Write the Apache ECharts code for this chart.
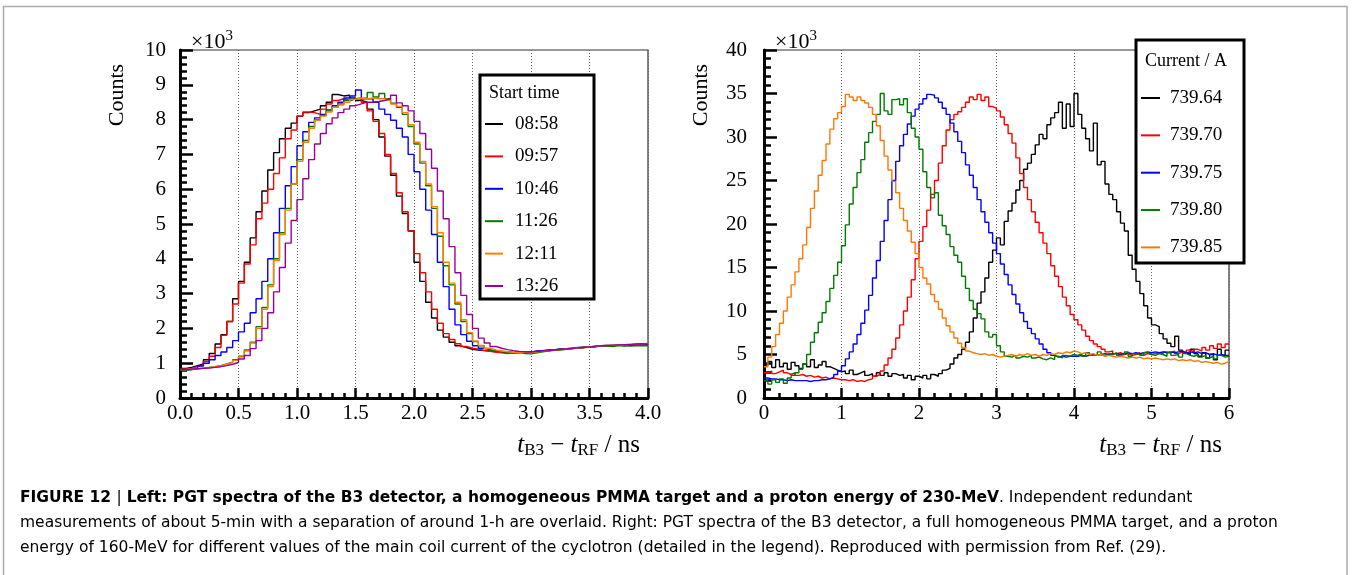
<!DOCTYPE html>
<html>
<head>
<meta charset="utf-8">
<script src="https://cdn.jsdelivr.net/npm/echarts@6/dist/echarts.min.js"></script>
<style>
  html, body { margin: 0; padding: 0; background: #fff; }
  #chart { width: 1352px; height: 575px; }
</style>
</head>
<body>
<div id="chart"></div>
<script>
// ---- left panel: start time runs, counts in units of 10^3, bins of 0.05 ns ----
const leftBin = 0.05;
const leftNames = ['08:58', '09:57', '10:46', '11:26', '12:11', '13:26'];
const leftColors = ['#000000', '#ff0000', '#0000ff', '#007a00', '#ff7f00', '#990099'];

const left0858 = [
  0.85, 0.88, 0.93, 0.98, 1.10, 1.28, 1.55, 1.82, 2.20, 2.85,
  3.35, 3.90, 4.60, 5.35, 5.95, 6.55, 7.05, 7.45, 7.75, 7.90,
  8.10, 8.20, 8.25, 8.30, 8.40, 8.50, 8.72, 8.68, 8.70, 8.62,
  8.55, 8.50, 8.30, 8.00, 7.50, 6.95, 6.40, 5.80, 5.30, 4.80,
  3.90, 3.35, 2.75, 2.30, 1.95, 1.75, 1.60, 1.50, 1.45, 1.40,
  1.38, 1.36, 1.35, 1.33, 1.32, 1.31, 1.30, 1.30, 1.32, 1.33,
  1.34, 1.36, 1.37, 1.38, 1.40, 1.41, 1.42, 1.44, 1.45, 1.47,
  1.48, 1.50, 1.49, 1.51, 1.52, 1.50, 1.53, 1.52, 1.54, 1.53
];
const left0957 = [
  0.82, 0.85, 0.90, 0.95, 1.05, 1.20, 1.45, 1.80, 2.20, 2.70,
  3.30, 3.85, 4.40, 5.15, 5.60, 6.00, 6.45, 6.90, 7.45, 7.70,
  8.10, 8.22, 8.20, 8.15, 8.30, 8.45, 8.55, 8.60, 8.55, 8.60,
  8.62, 8.50, 8.25, 7.95, 7.60, 7.00, 6.45, 5.90, 5.35, 4.80,
  4.15, 3.60, 3.05, 2.55, 2.15, 1.85, 1.68, 1.56, 1.48, 1.43,
  1.40, 1.37, 1.34, 1.32, 1.30, 1.28, 1.30, 1.31, 1.30, 1.32,
  1.34, 1.35, 1.37, 1.38, 1.40, 1.40, 1.42, 1.44, 1.45, 1.46,
  1.48, 1.49, 1.50, 1.50, 1.52, 1.52, 1.53, 1.54, 1.55, 1.55
];
const left1046 = [
  0.80, 0.82, 0.85, 0.92, 1.00, 1.10, 1.22, 1.32, 1.45, 1.65,
  1.90, 2.15, 2.45, 2.85, 3.35, 4.00, 4.75, 5.45, 6.10, 6.65,
  7.25, 7.65, 7.92, 8.05, 8.15, 8.28, 8.40, 8.50, 8.62, 8.68,
  8.85, 8.60, 8.60, 8.50, 8.30, 8.15, 7.98, 7.75, 7.50, 7.00,
  6.50, 6.00, 5.40, 4.70, 3.90, 3.20, 2.55, 2.10, 1.82, 1.63,
  1.50, 1.43, 1.39, 1.36, 1.34, 1.32, 1.31, 1.32, 1.33, 1.32,
  1.35, 1.36, 1.38, 1.39, 1.40, 1.42, 1.43, 1.45, 1.46, 1.47,
  1.48, 1.50, 1.51, 1.50, 1.52, 1.53, 1.52, 1.54, 1.55, 1.54
];
const left1126 = [
  0.80, 0.82, 0.84, 0.86, 0.88, 0.90, 0.93, 0.98, 1.03, 1.10,
  1.20, 1.38, 1.60, 2.05, 2.60, 3.25, 4.00, 4.75, 5.45, 6.15,
  6.85, 7.40, 7.80, 8.00, 8.12, 8.25, 8.35, 8.45, 8.55, 8.60,
  8.60, 8.62, 8.78, 8.65, 8.75, 8.60, 8.47, 8.35, 8.15, 7.80,
  7.30, 6.75, 6.10, 5.45, 4.65, 3.80, 3.25, 2.70, 2.20, 1.85,
  1.62, 1.50, 1.42, 1.36, 1.33, 1.32, 1.30, 1.32, 1.28, 1.27,
  1.30, 1.33, 1.35, 1.37, 1.38, 1.40, 1.42, 1.43, 1.45, 1.47,
  1.48, 1.49, 1.50, 1.48, 1.51, 1.50, 1.49, 1.50, 1.51, 1.50
];
const left1211 = [
  0.82, 0.83, 0.84, 0.85, 0.87, 0.90, 0.92, 0.97, 1.02, 1.08,
  1.18, 1.35, 1.58, 2.00, 2.55, 3.20, 3.95, 4.70, 5.40, 6.15,
  6.80, 7.35, 7.75, 7.98, 8.10, 8.22, 8.35, 8.42, 8.50, 8.58,
  8.62, 8.60, 8.62, 8.60, 8.60, 8.55, 8.45, 8.38, 8.20, 7.85,
  7.35, 6.80, 6.15, 5.50, 4.75, 3.90, 3.30, 2.75, 2.25, 1.88,
  1.64, 1.51, 1.43, 1.38, 1.35, 1.33, 1.31, 1.30, 1.32, 1.30,
  1.33, 1.34, 1.36, 1.38, 1.39, 1.41, 1.42, 1.44, 1.46, 1.47,
  1.49, 1.50, 1.51, 1.52, 1.51, 1.53, 1.54, 1.55, 1.56, 1.57
];
const left1326 = [
  0.82, 0.83, 0.84, 0.85, 0.86, 0.88, 0.90, 0.93, 0.97, 1.02,
  1.12, 1.22, 1.42, 1.65, 2.00, 2.45, 3.05, 3.75, 4.45, 5.10,
  5.70, 6.30, 6.85, 7.30, 7.60, 7.88, 8.05, 8.20, 8.30, 8.40,
  8.45, 8.50, 8.50, 8.52, 8.55, 8.60, 8.70, 8.48, 8.40, 8.25,
  7.95, 7.60, 7.15, 6.60, 5.95, 5.15, 4.35, 3.60, 2.95, 2.40,
  2.00, 1.72, 1.58, 1.48, 1.43, 1.39, 1.36, 1.34, 1.33, 1.32,
  1.34, 1.35, 1.36, 1.38, 1.40, 1.41, 1.43, 1.44, 1.46, 1.47,
  1.49, 1.50, 1.51, 1.52, 1.52, 1.53, 1.54, 1.55, 1.56, 1.55
];
const leftValues = [left0858, left0957, left1046, left1126, left1211, left1326];

// ---- right panel: main coil current, counts in units of 10^3, bins of 0.05 ns ----
const rightBin = 0.05;
const rightNames = ['739.64', '739.70', '739.75', '739.80', '739.85'];
const rightColors = ['#000000', '#ff0000', '#0000ff', '#007a00', '#ff7700'];

const right73964 = [
  3.8, 4.2, 3.5, 4.4, 3.6, 4.0, 3.3, 4.1, 3.7, 3.4,
  3.9, 3.6, 4.4, 3.5, 3.8, 4.2, 3.6, 3.4, 3.2, 3.0,
  3.1, 2.8, 3.2, 2.7, 2.9, 3.1, 2.6, 2.8, 2.5, 2.9,
  2.6, 2.9, 2.5, 2.8, 2.6, 2.7, 2.3, 2.6, 2.1, 2.5,
  2.3, 2.6, 2.2, 2.7, 2.5, 2.8, 3.2, 3.4, 3.9, 4.6,
  5.0, 5.6, 6.4, 7.6, 9.2, 10.9, 12.2, 13.8, 15.6, 17.0,
  18.4, 17.6, 20.3, 21.5, 22.4, 23.9, 25.0, 26.3, 27.0, 28.0,
  29.1, 30.3, 29.8, 31.4, 32.2, 32.8, 34.0, 31.0, 33.8, 31.2,
  35.0, 32.6, 31.0, 29.8, 28.4, 31.6, 26.8, 27.2, 24.6, 23.4,
  22.8, 21.4, 20.1, 19.2, 16.4, 14.8, 13.4, 12.0, 10.6, 9.2,
  8.4, 8.2, 7.4, 6.8, 6.3, 5.9, 7.1, 5.5, 5.2, 5.0,
  5.6, 5.1, 4.8, 5.2, 4.6, 5.0, 4.4, 5.6, 4.9, 5.5
];
const right73970 = [
  2.9, 3.1, 2.8, 3.0, 3.2, 2.9, 2.7, 2.9, 2.6, 2.7,
  2.5, 2.6, 2.4, 2.5, 2.3, 2.4, 2.2, 2.3, 2.2, 2.1,
  2.1, 2.0, 2.1, 1.9, 2.0, 1.9, 2.1, 2.2, 2.5, 2.7,
  3.1, 3.8, 4.6, 5.6, 6.9, 8.4, 10.0, 11.6, 13.6, 16.0,
  18.0, 19.7, 21.6, 23.4, 25.0, 27.0, 29.0, 30.8, 32.0, 32.6,
  32.9, 33.4, 34.0, 34.6, 34.3, 34.9, 34.2, 34.6, 33.5, 33.3,
  33.0, 32.3, 31.4, 30.4, 29.3, 27.6, 25.8, 24.2, 22.8, 21.4,
  20.2, 19.0, 17.8, 16.6, 15.2, 14.0, 12.8, 11.6, 10.6, 9.6,
  9.0, 8.4, 7.8, 7.1, 6.6, 6.2, 5.9, 5.6, 5.3, 5.4,
  5.1, 5.2, 5.0, 5.1, 4.9, 5.0, 5.2, 4.9, 5.1, 5.0,
  5.1, 5.2, 5.0, 5.3, 5.2, 5.4, 5.1, 5.3, 5.2, 5.5,
  5.3, 5.6, 5.4, 5.8, 5.5, 6.0, 5.7, 6.2, 5.8, 6.2
];
const right73975 = [
  2.3, 2.2, 2.2, 2.1, 2.1, 2.0, 2.1, 2.0, 2.0, 2.0,
  2.0, 1.9, 2.0, 2.0, 2.1, 2.1, 2.2, 2.4, 2.7, 3.1,
  3.7, 4.5, 5.3, 6.2, 7.3, 8.6, 10.1, 11.8, 13.8, 15.8,
  18.0, 20.4, 22.8, 25.0, 27.2, 29.0, 30.3, 31.5, 32.4, 33.2,
  33.8, 34.4, 34.9, 34.8, 34.5, 34.0, 33.3, 32.6, 31.6, 30.6,
  29.5, 28.2, 26.8, 25.6, 24.2, 22.8, 21.4, 20.2, 19.0, 17.8,
  16.6, 15.4, 14.2, 13.0, 11.9, 10.8, 9.8, 8.8, 8.0, 7.4,
  6.8, 6.2, 5.6, 5.2, 4.9, 4.7, 4.8, 4.7, 4.8, 4.8,
  4.8, 4.9, 4.8, 4.9, 5.0, 4.9, 5.0, 5.1, 5.0, 5.1,
  5.1, 5.0, 5.1, 5.2, 5.1, 5.2, 5.1, 5.2, 5.3, 5.2,
  5.3, 5.2, 5.3, 5.2, 5.3, 5.2, 5.3, 5.4, 5.2, 5.3,
  5.2, 5.3, 5.1, 5.2, 5.0, 5.1, 4.9, 5.0, 4.9, 4.9
];
const right73980 = [
  2.0, 1.6, 2.1, 1.8, 2.2, 1.7, 2.3, 2.6, 2.9, 3.3,
  3.9, 5.0, 6.4, 7.5, 8.7, 9.8, 11.1, 12.6, 14.1, 15.6,
  17.5, 19.9, 22.3, 24.2, 25.9, 27.4, 29.4, 30.5, 31.8, 32.6,
  35.0, 33.0, 32.6, 34.3, 34.4, 33.7, 34.4, 32.8, 31.0, 30.0,
  28.6, 26.0, 24.2, 23.0, 23.6, 21.0, 19.8, 18.8, 17.4, 16.4,
  15.6, 14.0, 12.6, 11.2, 10.2, 9.7, 9.1, 7.6, 7.0, 7.3,
  6.0, 5.3, 4.8, 4.7, 4.9, 4.6, 4.8, 4.7, 4.9, 4.6,
  4.7, 4.5, 4.4, 4.6, 4.4, 4.8, 4.6, 4.9, 4.8, 5.0,
  4.9, 5.1, 4.8, 5.2, 4.9, 5.0, 5.3, 4.9, 5.1, 5.0,
  5.2, 4.9, 5.0, 5.3, 4.8, 5.1, 5.0, 4.9, 5.2, 5.0,
  4.9, 5.1, 5.0, 4.8, 5.2, 4.9, 5.0, 4.7, 5.1, 4.9,
  4.8, 5.0, 4.7, 4.9, 4.6, 4.8, 4.5, 4.9, 4.7, 4.8
];
const right73985 = [
  3.6, 4.7, 5.9, 7.3, 8.6, 10.0, 11.6, 13.0, 14.5, 16.0,
  17.6, 19.6, 21.8, 23.8, 25.6, 27.3, 29.2, 30.9, 32.1, 32.8,
  33.5, 34.9, 34.6, 34.2, 34.6, 34.2, 33.9, 33.4, 32.6, 31.3,
  29.6, 27.8, 26.2, 24.9, 23.6, 21.8, 20.4, 19.2, 17.9, 16.6,
  15.0, 13.8, 13.1, 11.9, 11.1, 10.2, 9.2, 8.3, 7.6, 6.9,
  6.3, 5.8, 5.4, 5.2, 5.1, 5.0, 5.1, 4.9, 5.0, 4.8,
  4.7, 4.8, 4.9, 5.0, 4.8, 5.0, 4.9, 5.1, 4.9, 5.0,
  4.8, 5.0, 4.9, 5.1, 5.0, 5.2, 5.1, 5.3, 5.2, 5.4,
  5.3, 5.1, 5.2, 5.0, 5.1, 4.9, 5.0, 4.8, 4.9, 4.8,
  4.7, 4.8, 4.7, 4.6, 4.7, 4.6, 4.7, 4.5, 4.6, 4.5,
  4.6, 4.5, 4.4, 4.5, 4.4, 4.5, 4.3, 4.4, 4.3, 4.4,
  4.2, 4.3, 4.1, 4.2, 4.1, 4.0, 4.1, 3.9, 4.0, 4.2
];
const rightValues = [right73964, right73970, right73975, right73980, right73985];

const serif = 'Liberation Serif';
const sans = 'DejaVu Sans';

// histogram bins -> step line points on bin edges
function toSteps(vals, w) {
  const pts = vals.map((v, i) => [+(i * w).toFixed(3), v]);
  pts.push([+(vals.length * w).toFixed(3), vals[vals.length - 1]]);
  return pts;
}

function xAxisFor(gridIndex, max, interval, fmt) {
  return {
    type: 'value', gridIndex: gridIndex, min: 0, max: max, interval: interval,
    axisLine: { show: true, onZero: false, lineStyle: { color: '#000', width: 3 } },
    axisTick: { show: true, inside: true, length: 10, lineStyle: { color: '#000', width: 2.5 } },
    minorTick: { show: true, splitNumber: 5, length: 5, lineStyle: { color: '#000', width: 2.5 } },
    axisLabel: { color: '#000', fontFamily: serif, fontSize: 21, margin: 5, formatter: fmt },
    splitLine: { show: true, lineStyle: { color: '#666', width: 1, type: [1, 2] } }
  };
}
function yAxisFor(gridIndex, max, interval, margin) {
  return {
    type: 'value', gridIndex: gridIndex, min: 0, max: max, interval: interval,
    axisLine: { show: true, onZero: false, lineStyle: { color: '#000', width: 3 } },
    axisTick: { show: true, inside: true, length: 13, lineStyle: { color: '#000', width: 2.5 } },
    minorTick: { show: true, splitNumber: 5, length: 7, lineStyle: { color: '#000', width: 2.5 } },
    axisLabel: { color: '#000', fontFamily: serif, fontSize: 21, margin: margin },
    splitLine: { show: false }
  };
}

const series = [];
leftValues.forEach((vals, k) => {
  series.push({
    name: leftNames[k], type: 'line', step: 'end', xAxisIndex: 0, yAxisIndex: 0,
    data: toSteps(vals, leftBin), showSymbol: false, symbol: 'none',
    color: leftColors[k], lineStyle: { width: 1.4, color: leftColors[k] }
  });
});
rightValues.forEach((vals, k) => {
  series.push({
    name: rightNames[k], type: 'line', step: 'end', xAxisIndex: 1, yAxisIndex: 1,
    data: toSteps(vals, rightBin), showSymbol: false, symbol: 'none',
    color: rightColors[k], lineStyle: { width: 1.4, color: rightColors[k] }
  });
});

const axisTitleRich = {
  it: { fontFamily: serif, fontStyle: 'italic', fontSize: 25, color: '#000' },
  sub: { fontFamily: serif, fontSize: 17, color: '#000', padding: [11, 0, 0, 0] },
  n: { fontFamily: serif, fontSize: 25, color: '#000' }
};
const axisTitle = '{it|t}{sub|B3}{n| − }{it|t}{sub|RF}{n| / ns}';
const powRich = {
  n: { fontFamily: serif, fontSize: 22, color: '#000' },
  sup: { fontFamily: serif, fontSize: 15, color: '#000', padding: [0, 0, 12, 0] }
};

const capSize = 15.5;
const captionRich = {
  b: { fontFamily: sans, fontSize: capSize, fontWeight: 'bold', color: '#222' },
  bar: { fontFamily: sans, fontSize: capSize, color: '#aaa' },
  n: { fontFamily: sans, fontSize: capSize, color: '#333' },
  l: { fontFamily: sans, fontSize: capSize, color: '#5b8fc7' }
};

const chart = echarts.init(document.getElementById('chart'));
chart.setOption({
  animation: false,
  backgroundColor: '#fff',
  grid: [
    { left: 180, top: 50, width: 468, height: 348, show: true, borderColor: '#333', borderWidth: 1.2 },
    { left: 764, top: 50, width: 465, height: 348, show: true, borderColor: '#333', borderWidth: 1.2 }
  ],
  xAxis: [
    xAxisFor(0, 4, 0.5, v => v.toFixed(1)),
    xAxisFor(1, 6, 1, v => String(v))
  ],
  yAxis: [
    yAxisFor(0, 10, 1, 14),
    yAxisFor(1, 40, 5, 17)
  ],
  legend: [
    {
      data: leftNames, orient: 'vertical', left: 485, top: 114, padding: 0, z: 20,
      icon: 'rect', itemWidth: 18, itemHeight: 2, itemGap: 12.4,
      textStyle: { fontFamily: serif, fontSize: 19, lineHeight: 20, color: '#000', padding: [0, 0, 0, 7] },
      selectedMode: false
    },
    {
      data: rightNames, orient: 'vertical', left: 1141, top: 88, padding: 0, z: 20,
      icon: 'rect', itemWidth: 19, itemHeight: 2, itemGap: 17.35,
      textStyle: { fontFamily: serif, fontSize: 19, lineHeight: 20, color: '#000', padding: [0, 0, 0, 5] },
      selectedMode: false
    }
  ],
  graphic: [
    { type: 'rect', shape: { x: 3.5, y: 6.5, width: 1343.5, height: 640 }, style: { fill: 'none', stroke: '#aaa', lineWidth: 1.5 }, z: 1 },
    { type: 'rect', shape: { x: 480, y: 75, width: 114, height: 224 }, style: { fill: '#fff', stroke: '#000', lineWidth: 3 }, z: 10 },
    { type: 'rect', shape: { x: 1136, y: 40, width: 108, height: 223 }, style: { fill: '#fff', stroke: '#000', lineWidth: 3 }, z: 10 },
    { type: 'text', x: 489, y: 93, z: 20, style: { text: 'Start time', font: '18px "Liberation Serif"', fill: '#000', textVerticalAlign: 'middle' } },
    { type: 'text', x: 1145, y: 61, z: 20, style: { text: 'Current / A', font: '18px "Liberation Serif"', fill: '#000', textVerticalAlign: 'middle' } },
    { type: 'text', x: 117, y: 95, rotation: Math.PI / 2, z: 20, style: { text: 'Counts', font: '22px "Liberation Serif"', fill: '#000', textAlign: 'center', textVerticalAlign: 'middle' } },
    { type: 'text', x: 701, y: 95, rotation: Math.PI / 2, z: 20, style: { text: 'Counts', font: '22px "Liberation Serif"', fill: '#000', textAlign: 'center', textVerticalAlign: 'middle' } },
    { type: 'text', x: 191, y: 29, z: 20, style: { text: '{n|×10}{sup|3}', rich: powRich } },
    { type: 'text', x: 775, y: 29, z: 20, style: { text: '{n|×10}{sup|3}', rich: powRich } },
    { type: 'text', x: 640, y: 445, z: 20, style: { text: axisTitle, rich: axisTitleRich, textAlign: 'right', textVerticalAlign: 'middle' } },
    { type: 'text', x: 1222, y: 445, z: 20, style: { text: axisTitle, rich: axisTitleRich, textAlign: 'right', textVerticalAlign: 'middle' } },
    { type: 'text', x: 20, y: 498, z: 20, style: { textVerticalAlign: 'middle', rich: captionRich,
      text: '{b|FIGURE 12 }{bar|| }{b|Left: PGT spectra of the B3 detector, a homogeneous PMMA target and a proton energy of 230-MeV}{n|. Independent redundant}' } },
    { type: 'text', x: 20, y: 523, z: 20, style: { textVerticalAlign: 'middle', rich: captionRich,
      text: '{n|measurements of about 5-min with a separation of around 1-h are overlaid. Right: PGT spectra of the B3 detector, a full homogeneous PMMA target, and a proton}' } },
    { type: 'text', x: 20, y: 548, z: 20, style: { textVerticalAlign: 'middle', rich: captionRich,
      text: '{n|energy of 160-MeV for different values of the main coil current of the cyclotron (detailed in the legend). Reproduced with permission from Ref. (}{l|29}{n|).}' } }
  ],
  series: series
});
</script>
</body>
</html>
